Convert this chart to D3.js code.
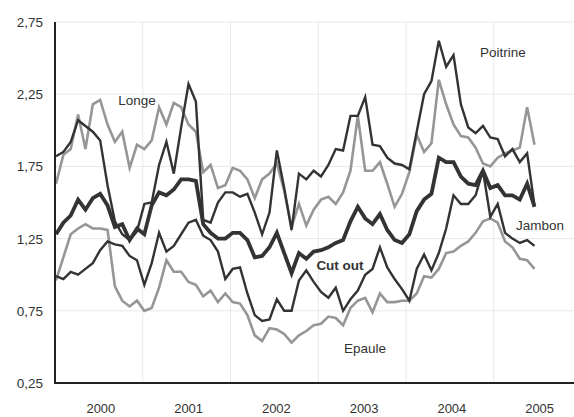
<!DOCTYPE html>
<html>
  <head>
    <meta charset="UTF-8" />
    <style>
      body {
        margin: 0;
        background-color: rgb(255, 255, 255);
      }
      svg text {
        font-family: 'Liberation Sans', Arial, sans-serif;
        fill: rgb(51, 51, 51);
      }
    </style>
  </head>
  <body>
    <svg></svg>

    <script src="https://d3js.org/d3.v7.min.js"></script>

    <script>
      // monthly prices, one value per month
      const longe = [
        1.63, 1.83, 1.87, 2.11, 1.87, 2.18, 2.21, 2.04, 1.92, 1.99,
        1.74, 1.9, 1.87, 1.93, 2.16, 2.04, 2.19, 2.16, 2.04, 1.99,
        1.71, 1.76, 1.6, 1.62, 1.74, 1.72, 1.66, 1.53, 1.66, 1.7,
        1.77, 1.58, 1.33, 1.49, 1.34, 1.45, 1.52, 1.54, 1.49, 1.57,
        1.72, 2.1, 1.72, 1.72, 1.78, 1.63, 1.47, 1.56, 1.71, 1.97,
        1.85, 1.91, 2.35, 2.18, 2.04, 1.96, 1.95, 1.88, 1.77, 1.75,
        1.81, 1.84, 1.86, 1.88, 2.16, 1.9
      ]
      const poitrine = [
        1.82, 1.85, 1.92, 2.07, 2.03, 1.99, 1.93, 1.62, 1.37, 1.28,
        1.24, 1.3, 1.49, 1.5, 1.76, 1.92, 1.7, 2.02, 2.32, 2.2,
        1.38, 1.36, 1.5, 1.57, 1.57, 1.54, 1.56, 1.43, 1.28, 1.43,
        1.86, 1.6, 1.31, 1.7, 1.66, 1.72, 1.68, 1.76, 1.87, 1.86,
        2.1, 2.1, 2.23, 1.9, 1.89, 1.81, 1.77, 1.76, 1.73, 1.99,
        2.25, 2.34, 2.62, 2.44, 2.52, 2.18, 2.02, 1.98, 2.03, 1.95,
        1.94, 1.82, 1.87, 1.78, 1.84, 1.48
      ]
      const cutOut = [
        1.28, 1.36, 1.41, 1.52, 1.45, 1.53, 1.56, 1.48, 1.33, 1.35,
        1.24, 1.32, 1.28, 1.48, 1.57, 1.55, 1.59, 1.66, 1.66, 1.65,
        1.35, 1.29, 1.25, 1.25, 1.29, 1.29, 1.24, 1.12, 1.13, 1.19,
        1.29, 1.15, 1.01, 1.15, 1.11, 1.16, 1.17, 1.19, 1.22, 1.24,
        1.37, 1.47, 1.39, 1.35, 1.42, 1.31, 1.24, 1.22, 1.28, 1.44,
        1.52, 1.56, 1.81, 1.78, 1.78, 1.68, 1.63, 1.62, 1.72, 1.6,
        1.62, 1.55, 1.55, 1.52, 1.63, 1.47
      ]
      const jambon = [
        0.99, 0.97, 1.02, 1.0, 1.04, 1.08, 1.17, 1.23, 1.21, 1.2,
        1.13, 1.1, 0.93, 1.08, 1.29, 1.16, 1.2, 1.28, 1.36, 1.38,
        1.27, 1.24, 1.16, 0.97, 1.04, 1.05, 0.87, 0.72, 0.68, 0.69,
        0.83, 0.75, 0.75, 0.96, 1.03, 0.95, 0.88, 0.84, 0.91, 0.75,
        0.83, 0.89, 1.0, 1.04, 1.19, 1.05, 0.97, 0.9, 0.82, 1.04,
        1.14, 1.03, 1.15, 1.32, 1.55, 1.49, 1.49, 1.55, 1.72, 1.4,
        1.49, 1.29, 1.25, 1.22, 1.24, 1.2
      ]
      const epaule = [
        0.96, 1.12, 1.28, 1.32, 1.35, 1.32, 1.32, 1.31, 0.92, 0.82,
        0.78, 0.82, 0.75, 0.77, 0.91, 1.1, 1.02, 1.02, 0.95, 0.93,
        0.85, 0.89, 0.81, 0.87, 0.81, 0.8, 0.72, 0.58, 0.54, 0.63,
        0.62, 0.59, 0.53, 0.58, 0.61, 0.65, 0.66, 0.71, 0.7, 0.65,
        0.77, 0.82, 0.84, 0.74, 0.87, 0.81, 0.81, 0.82, 0.82, 0.87,
        0.99, 0.98, 1.04, 1.15, 1.16, 1.2, 1.23, 1.29, 1.37, 1.39,
        1.36, 1.23, 1.19, 1.11, 1.1, 1.04
      ]
      const years = ['2000', '2001', '2002', '2003', '2004', '2005']
      const yTicks = [0.25, 0.75, 1.25, 1.75, 2.25, 2.75]

      let width = 574,
        height = 417

      let svg = d3.select('svg').attr('width', width).attr('height', height)

      let x = d3.scaleLinear().domain([0, longe.length - 1]).range([56, 534.5])
      let xBand = d3.scaleBand().domain(years).range([55, 581.5])
      let y = d3.scaleLinear().domain([0.25, 2.75]).range([383, 22])

      // grid
      let grid = svg.append('g').attr('stroke', 'rgb(232, 232, 232)').attr('stroke-width', 1)
      grid
        .selectAll('.hgrid')
        .data(yTicks)
        .enter()
        .append('line')
        .attr('x1', 55)
        .attr('x2', width)
        .attr('y1', (d) => y(d))
        .attr('y2', (d) => y(d))
      grid
        .selectAll('.vgrid')
        .data(years.slice(1))
        .enter()
        .append('line')
        .attr('x1', (d) => xBand(d))
        .attr('x2', (d) => xBand(d))
        .attr('y1', y(2.75))
        .attr('y2', y(0.25))

      // y labels
      svg
        .append('g')
        .selectAll('text')
        .data(yTicks)
        .enter()
        .append('text')
        .attr('x', 43)
        .attr('y', (d) => y(d) + 5)
        .attr('text-anchor', 'end')
        .style('font-size', '13.5px')
        .text((d) => d3.format('.2f')(d).replace('.', ','))

      // x labels
      svg
        .append('g')
        .selectAll('text')
        .data(years)
        .enter()
        .append('text')
        .attr('x', (d) => xBand(d) + xBand.bandwidth() / 2 + 2)
        .attr('y', 413)
        .attr('text-anchor', 'middle')
        .style('font-size', '13px')
        .text((d) => d)

      let line = d3
        .line()
        .x((d, i) => x(i))
        .y((d) => y(d))

      let series = [
        { values: epaule, color: 'rgb(150, 150, 150)', w: 2.6 },
        { values: longe, color: 'rgb(150, 150, 150)', w: 2.6 },
        { values: jambon, color: 'rgb(51, 51, 51)', w: 2.4 },
        { values: poitrine, color: 'rgb(51, 51, 51)', w: 2.4 },
        { values: cutOut, color: 'rgb(51, 51, 51)', w: 3.8 },
      ]

      svg
        .append('g')
        .selectAll('path')
        .data(series)
        .enter()
        .append('path')
        .attr('fill', 'none')
        .attr('stroke', (d) => d.color)
        .attr('stroke-width', (d) => d.w)
        .attr('stroke-linejoin', 'miter')
        .attr('d', (d) => line(d.values))

      // axes
      svg
        .append('line')
        .attr('x1', 55)
        .attr('x2', 55)
        .attr('y1', y(2.75))
        .attr('y2', y(0.25) + 1)
        .attr('stroke', 'rgb(34, 34, 34)')
        .attr('stroke-width', 2)
      svg
        .append('line')
        .attr('x1', 54)
        .attr('x2', width)
        .attr('y1', y(0.25))
        .attr('y2', y(0.25))
        .attr('stroke', 'rgb(34, 34, 34)')
        .attr('stroke-width', 2)

      // series labels
      let labels = [
        { t: 'Longe', x: 137, y: 105, b: false },
        { t: 'Poitrine', x: 503, y: 57, b: false },
        { t: 'Jambon', x: 540, y: 230, b: false },
        { t: 'Cut out', x: 340, y: 270, b: true },
        { t: 'Epaule', x: 365, y: 353, b: false },
      ]
      svg
        .append('g')
        .selectAll('text')
        .data(labels)
        .enter()
        .append('text')
        .attr('x', (d) => d.x)
        .attr('y', (d) => d.y)
        .attr('text-anchor', 'middle')
        .style('font-size', '13.5px')
        .style('font-weight', (d) => (d.b ? 'bold' : 'normal'))
        .text((d) => d.t)
    </script>
  </body>
</html>
